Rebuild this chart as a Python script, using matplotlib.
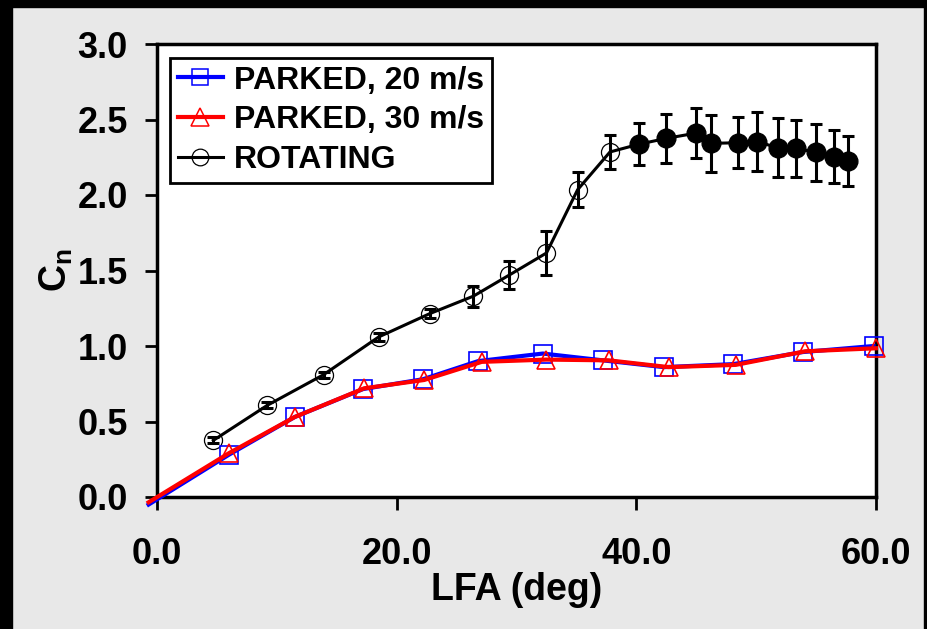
import matplotlib.pyplot as plt
from matplotlib.patches import Rectangle

# parked blade, 20 m/s (first point only carries the line to the origin)
lfa_p20 = [-0.7, 6.0, 11.5, 17.2, 22.2, 26.8, 32.2, 37.2, 42.3, 48.1, 53.9, 59.8]
cn_p20 = [-0.05, 0.28, 0.53, 0.715, 0.78, 0.90, 0.95, 0.905, 0.86, 0.88, 0.96, 1.0]

# parked blade, 30 m/s
lfa_p30 = [-0.7, 6.0, 11.5, 17.3, 22.3, 27.1, 32.5, 37.7, 42.7, 48.3, 54.1, 60.0]
cn_p30 = [-0.035, 0.29, 0.53, 0.72, 0.775, 0.895, 0.91, 0.905, 0.86, 0.875, 0.965, 0.985]

# rotating blade, mean and spread
lfa_rot = [4.7, 9.2, 13.9, 18.5, 22.75, 26.4, 29.4, 32.5, 35.1, 37.8,
           40.2, 42.5, 45.0, 46.2, 48.5, 50.1, 51.8, 53.3, 55.0, 56.5, 57.65]
cn_rot = [0.375, 0.607, 0.81, 1.06, 1.214, 1.33, 1.47, 1.616, 2.035, 2.285,
          2.336, 2.375, 2.41, 2.342, 2.346, 2.353, 2.313, 2.309, 2.283, 2.254, 2.225]
err_rot = [0.02, 0.02, 0.02, 0.025, 0.03, 0.07, 0.09, 0.145, 0.115, 0.115,
           0.138, 0.162, 0.163, 0.187, 0.169, 0.194, 0.196, 0.19, 0.19, 0.174, 0.168]
n_open = 10  # first points drawn open, the rest filled

xticks = [0, 20, 40, 60]
yticks = [0.0, 0.5, 1.0, 1.5, 2.0, 2.5, 3.0]

plt.rcParams['font.family'] = ['Liberation Sans', 'DejaVu Sans']
plt.rcParams['font.weight'] = 'bold'
plt.rcParams['mathtext.fontset'] = 'custom'
plt.rcParams['mathtext.bf'] = 'Liberation Sans:bold'
plt.rcParams['mathtext.rm'] = 'Liberation Sans:bold'

fig = plt.figure(figsize=(9.28, 6.29), dpi=100, facecolor='#e8e8e8')
ax = fig.add_axes([157 / 928, 132 / 629, 719 / 928, 453 / 629])
ax.set_facecolor('white')

# black frame of the picture (left, top, right)
for x0, y0, w, h in [(0, 0, 12 / 928, 1), (0, 1 - 7 / 629, 1, 7 / 629), (1 - 4 / 928, 0, 4 / 928, 1)]:
    fig.add_artist(Rectangle((x0, y0), w, h, transform=fig.transFigure, color='black', zorder=10))

# rotating: error bars, line, open + filled markers
ax.errorbar(lfa_rot, cn_rot, yerr=err_rot, fmt='none', ecolor='black',
            elinewidth=2.2, capsize=4, capthick=2.2, zorder=3)
ax.plot(lfa_rot, cn_rot, '-', color='black', lw=2.2, zorder=3)
ax.plot(lfa_rot[:n_open], cn_rot[:n_open], 'o', ms=13, mfc='none', mec='black', mew=0.9, zorder=4)
ax.plot(lfa_rot[n_open:], cn_rot[n_open:], 'o', ms=13.5, color='black', zorder=4)

ax.plot(lfa_p20, cn_p20, '-', color='#0000ff', lw=3, marker='s', ms=12.5, mfc='none',
        mec='#0000ff', mew=1.2, markevery=list(range(1, len(lfa_p20))), clip_on=False, zorder=5)
ax.plot(lfa_p30, cn_p30, '-', color='#ff0000', lw=3, marker='^', ms=13, mfc='none',
        mec='#ff0000', mew=1.2, markevery=list(range(1, len(lfa_p30))), clip_on=False, zorder=6)

# legend proxies
h20, = ax.plot([], [], '-', color='#0000ff', lw=3, marker='s', ms=12, mfc='none', mec='#0000ff', mew=1.1)
h30, = ax.plot([], [], '-', color='#ff0000', lw=3, marker='^', ms=12.5, mfc='none', mec='#ff0000', mew=1.1)
hrot, = ax.plot([], [], '-', color='black', lw=2.2, marker='o', ms=12, mfc='none', mec='black', mew=0.9)
leg = ax.legend([h20, h30, hrot], ['PARKED, 20 m/s', 'PARKED, 30 m/s', 'ROTATING'],
                loc='upper left', bbox_to_anchor=(0.018, 0.97), fontsize=23, fancybox=False,
                edgecolor='black', framealpha=1, handlelength=1.4, handletextpad=0.35,
                labelspacing=0.3, borderpad=0.25, borderaxespad=0)
leg.get_frame().set_linewidth(2)

ax.set_xlim(0, 60)
ax.set_ylim(0, 3)
ax.set_xticks(xticks)
ax.set_xticklabels(['%.1f' % v for v in xticks])
ax.set_yticks(yticks)
ax.set_yticklabels(['%.1f' % v for v in yticks])
ax.tick_params(axis='x', direction='out', length=9, width=2, labelsize=26, pad=20)
ax.tick_params(axis='y', direction='out', length=9, width=2, labelsize=26, pad=12)
for s in ax.spines.values():
    s.set_linewidth(2.5)

ax.set_xlabel('LFA (deg)', fontsize=27, fontweight='bold', labelpad=0)
ax.set_ylabel(r'$\mathbf{C_n}$', fontsize=27, labelpad=2)

fig.savefig('out.png', dpi=100, facecolor=fig.get_facecolor())
